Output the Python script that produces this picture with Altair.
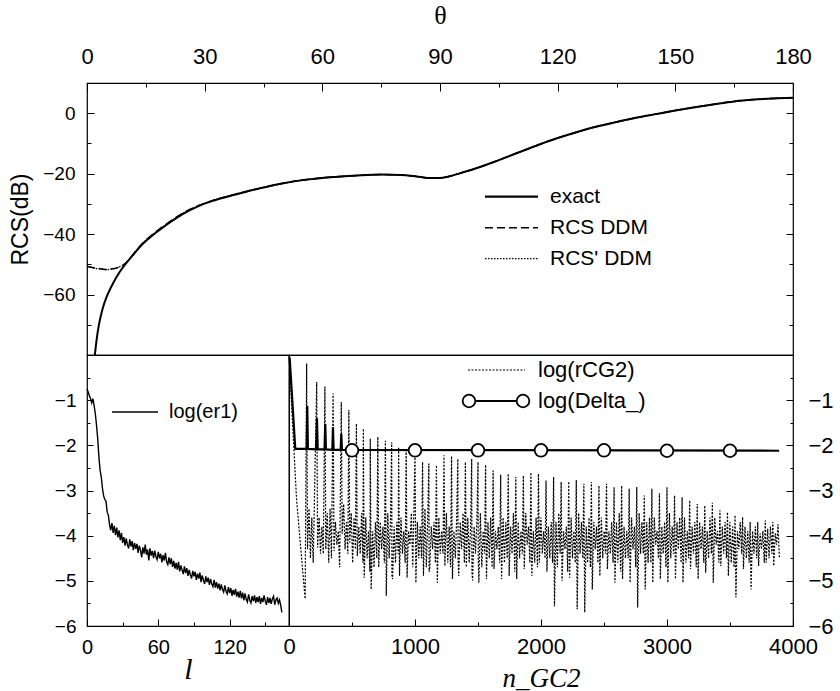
import altair as alt
import pandas as pd

# ---------------- top panel: RCS(dB) vs theta ----------------
theta_exact = [2.0, 2.5, 3.0, 3.5, 4.0, 5.0, 6.0, 7.0, 8.0, 9.0, 10.0, 11.0, 12.0, 13.5, 15.0,
               16.5, 18.5, 21.4, 24.5, 28.3, 32, 36.7, 41, 45.3, 50, 54, 60, 65, 70, 75, 80,
               84, 87, 90, 92, 95, 100, 105, 110, 115, 120, 125, 130, 135, 140, 145, 150, 155,
               160, 165, 170, 175, 180]
rcs_exact = [-80, -74.5, -70.3, -67.2, -64.6, -60.8, -57.9, -55.4, -53.2, -51.3, -49.6, -48.0,
             -46.5, -44.2, -42.3, -40.6, -38.6, -35.9, -33.3, -30.8, -29.0, -27.3, -25.8, -24.5,
             -23.2, -22.3, -21.4, -20.9, -20.5, -20.3, -20.4, -20.9, -21.4, -21.4, -21.0, -19.9,
             -17.9, -15.5, -13.0, -10.5, -8.2, -6.2, -4.4, -2.9, -1.5, -0.3, 0.9, 2.0, 3.0, 3.9,
             4.5, 4.9, 5.1]

theta_ddm = [0, 1, 2, 3, 4, 5, 6, 7, 8, 9, 10, 11, 12, 13.5, 15, 16.5, 18.5, 21.4, 24.5, 28.3,
             32, 36.7, 41, 45.3, 50, 54, 60, 65, 70, 75, 80, 84, 87, 90, 92, 95, 100, 105, 110,
             115, 120, 125, 130, 135, 140, 145, 150, 155, 160, 165, 170, 175, 180]
rcs_ddm = [-50.8, -51.0, -51.2, -51.4, -51.6, -51.7, -51.6, -51.4, -51.0, -50.4, -49.4, -47.9,
           -46.3, -44.0, -42.0, -40.3, -38.3, -35.6, -33.0, -30.6, -28.9, -27.2, -25.7, -24.5,
           -23.2, -22.3, -21.4, -20.9, -20.5, -20.3, -20.4, -20.9, -21.4, -21.4, -21.0, -19.9,
           -17.9, -15.5, -13.0, -10.5, -8.2, -6.2, -4.4, -2.9, -1.5, -0.3, 0.9, 2.0, 3.0, 3.9,
           4.5, 4.9, 5.1]
rcs_ddm2 = [-50.6, -50.9, -51.3, -51.5, -51.5, -51.8, -51.5, -51.4, -50.9, -50.5, -49.5, -48.0,
            -46.4, -44.1, -42.1, -40.4, -38.4, -35.7, -33.1, -30.7, -28.9, -27.2, -25.8, -24.5,
            -23.2, -22.3, -21.4, -20.9, -20.5, -20.3, -20.4, -20.9, -21.4, -21.4, -21.0, -19.9,
            -17.9, -15.5, -13.0, -10.5, -8.2, -6.2, -4.4, -2.9, -1.5, -0.3, 0.9, 2.0, 3.0, 3.9,
            4.5, 4.9, 5.1]

theta_major = [0, 30, 60, 90, 120, 150, 180]
theta_minor = [15, 45, 75, 105, 135, 165]
rcs_major = [-60, -40, -20, 0]
rcs_minor = [-70, -50, -30, -10]
top_legend = ["exact", "RCS DDM", "RCS' DDM"]

# ---------------- bottom left: log(er1) vs l ----------------
er1 = [
    -0.75, -0.82, -0.90, -0.96, -1.06, -0.97, -1.12, -1.30, -1.55, -1.85,
    -2.25, -2.55, -2.70, -2.95, -3.12, -3.20, -3.24, -3.48, -3.55, -3.76,
    -3.88, -3.72, -3.94, -3.78, -3.99, -3.82, -4.04, -3.88, -4.10, -3.94,
    -4.16, -4.03, -4.22, -4.06, -4.20, -4.28, -4.08, -4.24, -4.12, -4.32,
    -4.16, -4.29, -4.18, -4.38, -4.22, -4.32, -4.48, -4.26, -4.40, -4.20,
    -4.42, -4.31, -4.55, -4.28, -4.44, -4.34, -4.50, -4.33, -4.46, -4.53,
    -4.36, -4.50, -4.40, -4.59, -4.43, -4.55, -4.38, -4.58, -4.64, -4.48,
    -4.63, -4.50, -4.69, -4.56, -4.73, -4.60, -4.75, -4.58, -4.79, -4.66,
    -4.76, -4.85, -4.68, -4.83, -4.72, -4.89, -4.76, -4.87, -4.95, -4.78,
    -4.90, -4.80, -4.98, -4.84, -4.95, -4.82, -5.03, -4.88, -4.99, -5.07,
    -4.90, -5.03, -4.93, -5.09, -4.96, -5.07, -5.13, -4.98, -5.15, -5.03,
    -5.17, -5.06, -5.21, -5.08, -5.19, -5.25, -5.10, -5.23, -5.29, -5.14,
    -5.27, -5.16, -5.33, -5.20, -5.31, -5.18, -5.35, -5.24, -5.37, -5.22,
    -5.39, -5.26, -5.43, -5.28, -5.41, -5.47, -5.30, -5.43, -5.49, -5.34,
    -5.45, -5.32, -5.49, -5.36, -5.47, -5.34, -5.51, -5.38, -5.47, -5.32,
    -5.45, -5.53, -5.36, -5.49, -5.38, -5.51, -5.40, -5.34, -5.53, -5.42,
    -5.38, -5.50, -5.42, -5.54, -5.70]
l_values = list(range(len(er1)))
l_major = [0, 60, 120]
l_minor = [30, 90, 150]
log_major = [-6, -5, -4, -3, -2, -1]
log_minor = [-5.5, -4.5, -3.5, -2.5, -1.5, -0.5]

# ---------------- bottom right: log(rCG2), log(Delta_) vs n_GC2 ----------------
rcg_head_n = [0, 60, 128]
rcg_head_v = [0.0, -3.2, -5.4]
cycle_n = [140, 220, 285, 350, 415, 475, 535, 590, 645, 705,
           765, 815, 870, 930, 1000, 1060, 1110, 1170, 1230, 1290,
           1340, 1400, 1450, 1500, 1560, 1620, 1680, 1740, 1800, 1860,
           1920, 1980, 2040, 2100, 2160, 2220, 2280, 2340, 2400, 2460,
           2520, 2580, 2640, 2700, 2760, 2820, 2880, 2940, 3000, 3060,
           3120, 3180, 3240, 3300, 3360, 3420, 3480, 3540, 3600, 3660,
           3720, 3780, 3840]
rcg_peak = [-0.19, -0.60, -0.70, -0.85, -1.04, -1.22, -1.52, -1.63, -1.85, -1.81,
            -1.90, -1.93, -2.04, -2.07, -2.22, -2.37, -2.40, -2.44, -2.22, -2.24,
            -2.30, -2.37, -2.30, -2.37, -2.43, -2.56, -2.65, -2.63, -2.70, -2.67,
            -2.60, -2.63, -2.78, -2.70, -2.81, -2.80, -2.77, -2.85, -2.81, -2.89,
            -2.85, -2.93, -2.89, -2.96, -2.92, -3.11, -2.96, -3.06, -2.93, -3.11,
            -3.15, -3.22, -3.30, -3.33, -3.27, -3.44, -3.48, -3.55, -3.59, -3.70,
            -3.70, -3.66, -3.70]
rcg_trough = [-4.30, -4.26, -4.30, -4.34, -3.96, -4.15, -4.45, -4.93, -5.19, -4.70,
              -5.33, -4.96, -4.89, -4.93, -5.04, -4.89, -4.74, -5.04, -4.67, -4.96,
              -4.89, -4.70, -4.99, -5.04, -4.96, -4.74, -4.96, -4.89, -4.96, -4.74,
              -4.89, -4.60, -4.80, -5.56, -5.00, -4.93, -5.63, -5.70, -5.19, -4.89,
              -4.74, -5.04, -4.96, -5.04, -5.59, -5.19, -5.04, -4.96, -5.04, -4.96,
              -5.04, -4.74, -4.96, -4.82, -5.04, -4.67, -4.89, -5.37, -4.74, -5.19,
              -4.67, -4.60, -4.67]
rcg_mid = [-3.4, -3.6, -3.5, -3.7, -3.3, -3.5, -3.8, -3.6, -3.9, -3.7,
           -3.5, -3.8, -3.6, -3.9, -3.7, -3.4, -3.8, -3.6, -3.5, -3.9,
           -3.7, -3.6, -3.8, -3.5, -3.7, -3.9, -3.6, -3.8, -3.7, -3.5,
           -3.9, -3.6, -3.8, -3.7, -3.9, -3.6, -3.5, -3.8, -3.7, -3.6,
           -3.9, -3.7, -3.8, -3.6, -3.5, -3.7, -3.6, -3.8, -3.5, -3.7,
           -3.6, -3.8, -3.7, -3.9, -3.6, -3.8, -3.7, -3.9, -3.8, -3.9,
           -3.95, -3.85, -3.95]
rcg_trough2 = [-4.5, -4.4, -4.6, -4.2, -4.3, -4.6, -4.4, -4.5, -4.7, -4.3,
               -4.5, -4.6, -4.4, -4.2, -4.5, -4.7, -4.3, -4.4, -4.6, -4.5,
               -4.3, -4.6, -4.4, -4.7, -4.5, -4.3, -4.6, -4.4, -4.5, -4.2,
               -4.6, -4.4, -4.5, -4.7, -4.3, -4.5, -4.4, -4.6, -4.3, -4.5,
               -4.4, -4.6, -4.5, -4.3, -4.4, -4.6, -4.2, -4.4, -4.5, -4.3,
               -4.6, -4.4, -4.3, -4.5, -4.2, -4.4, -4.6, -4.3, -4.5, -4.4,
               -4.3, -4.5, -4.2]
rcg_mid2 = [-3.6, -3.8, -3.4, -3.9, -3.7, -3.6, -3.5, -3.9, -3.7, -3.8,
            -3.6, -3.7, -3.9, -3.5, -3.8, -3.6, -3.7, -3.9, -3.8, -3.6,
            -3.5, -3.8, -3.7, -3.9, -3.6, -3.8, -3.7, -3.5, -3.9, -3.8,
            -3.6, -3.9, -3.7, -3.5, -3.8, -3.9, -3.7, -3.6, -3.8, -3.9,
            -3.7, -3.5, -3.9, -3.8, -3.7, -3.6, -3.9, -3.7, -3.8, -3.6,
            -3.9, -3.7, -3.8, -3.6, -3.9, -3.7, -3.8, -3.7, -3.9, -3.8,
            -3.9, -3.8, -3.75]
rcg_trough3 = [-4.6, -4.4, -4.5, -4.7, -4.4, -4.3, -4.6, -4.8, -4.5, -4.6,
               -4.9, -4.4, -4.6, -4.7, -4.5, -4.8, -4.6, -4.4, -4.7, -4.5,
               -4.6, -4.8, -4.5, -4.4, -4.7, -4.6, -4.5, -4.8, -4.4, -4.6,
               -4.7, -4.5, -4.6, -4.4, -4.8, -4.6, -4.5, -4.7, -4.6, -4.4,
               -4.6, -4.8, -4.5, -4.7, -4.4, -4.6, -4.5, -4.7, -4.4, -4.6,
               -4.5, -4.7, -4.6, -4.4, -4.6, -4.5, -4.7, -4.4, -4.6, -4.5,
               -4.6, -4.4, -4.5]

delta_n = [5, 50, 140, 145, 150, 215, 222, 228, 283, 288, 293, 344, 349, 354, 410, 415, 420, 3890]
delta_v = [-0.05, -2.08, -2.08, -1.13, -2.08, -2.09, -1.40, -2.09, -2.09, -1.53, -2.09,
           -2.10, -1.60, -2.10, -2.10, -1.75, -2.10, -2.12]
circle_n = [500, 1000, 1500, 2000, 2500, 3000, 3500]
circle_v = [-2.11, -2.11, -2.11, -2.11, -2.11, -2.12, -2.12]

n_major = [0, 1000, 2000, 3000, 4000]
n_minor = [500, 1500, 2500, 3500]
br_legend = ["log(rCG2)", "log(Delta_)"]

# ---------------- build tables ----------------
df_exact = pd.DataFrame({"theta": theta_exact, "rcs": rcs_exact})
df_ddm = pd.DataFrame({"theta": theta_ddm, "rcs": rcs_ddm})
df_ddm2 = pd.DataFrame({"theta": theta_ddm, "rcs": rcs_ddm2})
df_er1 = pd.DataFrame({"l": l_values, "v": er1})

rows = [(n, v) for n, v in zip(rcg_head_n, rcg_head_v)]
for n0, p, t, m, t2, m2, t3 in zip(cycle_n, rcg_peak, rcg_trough, rcg_mid, rcg_trough2,
                                  rcg_mid2, rcg_trough3):
    rows += [(n0, p), (n0 + 7, t), (n0 + 19, m), (n0 + 30, t2), (n0 + 41, m2), (n0 + 52, t3)]
df_rcg = pd.DataFrame(rows, columns=["n", "v"])
df_delta = pd.DataFrame({"n": delta_n, "v": delta_v})
df_circ = pd.DataFrame({"n": circle_n, "v": circle_v})

SANS = "Liberation Sans"
SERIF = "Liberation Serif"


def ax(orient, values, size, labels=True, title=None, **kw):
    return alt.Axis(orient=orient, values=values, tickSize=size, offset=-size,
                    labels=labels, title=title, domain=False, grid=False,
                    labelFlush=False, labelOverlap=False, tickColor="black",
                    tickWidth=1, labelColor="black", titleColor="black",
                    labelFont=SANS, titleFontWeight="normal", **kw)


# ---------------- top panel ----------------
TW, TH = 706, 272
th_scale = alt.Scale(domain=[0, 180], nice=False, zero=False)
rcs_scale = alt.Scale(domain=[-80, 10], nice=False, zero=False)

t1 = alt.Chart(df_exact).mark_line(color="black", strokeWidth=2, interpolate="monotone").encode(
    x=alt.X("theta:Q", scale=th_scale,
            axis=ax("top", theta_major, 8, title="θ", labelFontSize=22, labelPadding=15,
                    titleFont=SERIF, titleFontSize=26, titlePadding=17)),
    y=alt.Y("rcs:Q", scale=rcs_scale,
            axis=ax("left", rcs_major, 7, title="RCS(dB)", labelFontSize=19, labelPadding=12,
                    titleFont=SANS, titleFontSize=23, titlePadding=10)),
)
t2 = alt.Chart(df_ddm).mark_line(color="black", strokeWidth=1.5, strokeDash=[8, 4],
                                 interpolate="monotone").encode(
    x=alt.X("theta:Q", scale=th_scale, axis=ax("top", theta_minor, 4, labels=False)),
    y=alt.Y("rcs:Q", scale=rcs_scale, axis=ax("left", rcs_minor, 4, labels=False)),
)
t3 = alt.Chart(df_ddm2).mark_line(color="black", strokeWidth=1.3, strokeDash=[1.5, 1.5],
                                  interpolate="monotone").encode(
    x=alt.X("theta:Q", scale=th_scale, axis=None),
    y=alt.Y("rcs:Q", scale=rcs_scale, axis=ax("right", rcs_major, 7, labels=False)),
)
t4 = alt.Chart(df_exact).mark_line(opacity=0).encode(
    x=alt.X("theta:Q", scale=th_scale, axis=None),
    y=alt.Y("rcs:Q", scale=rcs_scale, axis=ax("right", rcs_minor, 4, labels=False)),
)

leg_top = pd.DataFrame({"label": top_legend})
lt_y = [113.7, 144.7, 175.7]
lt_dash = [[1, 0], [8, 4], [1.5, 1.5]]
lt_w = [2.2, 1.5, 1.3]
top_leg_layers = []
for i, lab in enumerate(top_legend):
    d = leg_top.iloc[[i]]
    top_leg_layers.append(alt.Chart(d).mark_rule(color="black", strokeWidth=lt_w[i], strokeDash=lt_dash[i]).encode(
        x=alt.value(398), x2=alt.value(451), y=alt.value(lt_y[i])))
    top_leg_layers.append(alt.Chart(d).mark_text(align="left", baseline="middle", font=SANS, fontSize=21, color="black").encode(
        x=alt.value(463), y=alt.value(lt_y[i]), text="label:N"))

top = alt.layer(t1, t2, t3, t4, *top_leg_layers).resolve_axis(
    x="independent", y="independent").properties(width=TW, height=TH)

# ---------------- bottom left ----------------
BLW, BH = 202, 271
l_scale = alt.Scale(domain=[0, 170], nice=False, zero=False)
log_scale = alt.Scale(domain=[-6, 0], nice=False, zero=False)

b1 = alt.Chart(df_er1).mark_line(color="black", strokeWidth=1.4).encode(
    x=alt.X("l:Q", scale=l_scale,
            axis=ax("bottom", l_major, 7, title="l", labelFontSize=20, labelPadding=11,
                    titleFont=SERIF, titleFontStyle="italic", titleFontSize=30, titlePadding=-3)),
    y=alt.Y("v:Q", scale=log_scale,
            axis=ax("left", log_major, 6, labelFontSize=19, labelPadding=11)),
)
b2 = alt.Chart(df_er1).mark_line(opacity=0).encode(
    x=alt.X("l:Q", scale=l_scale, axis=ax("bottom", l_minor, 4, labels=False)),
    y=alt.Y("v:Q", scale=log_scale, axis=ax("left", log_minor, 3, labels=False)),
)
leg_bl = pd.DataFrame({"label": ["log(er1)"]})
b3 = alt.Chart(leg_bl).mark_rule(color="black", strokeWidth=1.4).encode(
    x=alt.value(25), x2=alt.value(71), y=alt.value(57))
b4 = alt.Chart(leg_bl).mark_text(align="left", baseline="middle", font=SANS, fontSize=20, color="black").encode(
    x=alt.value(82), y=alt.value(57), text="label:N")
bl = alt.layer(b1, b2, b3, b4).resolve_axis(x="independent", y="independent").properties(width=BLW, height=BH)

# ---------------- bottom right ----------------
BRW = 504
n_scale = alt.Scale(domain=[0, 4000], nice=False, zero=False)

r1 = alt.Chart(df_rcg).mark_line(color="black", strokeWidth=1.2, strokeDash=[2, 1.5]).encode(
    x=alt.X("n:Q", scale=n_scale,
            axis=ax("bottom", n_major, 7, title="n_GC2", labelFontSize=22, labelPadding=10,
                    format="d", titleFont=SERIF, titleFontStyle="italic", titleFontSize=27,
                    titlePadding=8)),
    y=alt.Y("v:Q", scale=log_scale,
            axis=ax("right", log_major, 7, labelFontSize=22, labelPadding=15)),
)
r2 = alt.Chart(df_delta).mark_line(color="black", strokeWidth=2.2).encode(
    x=alt.X("n:Q", scale=n_scale, axis=ax("bottom", n_minor, 4, labels=False)),
    y=alt.Y("v:Q", scale=log_scale, axis=ax("right", log_minor, 3, labels=False)),
)
r3 = alt.Chart(df_circ).mark_point(shape="circle", size=160, color="black", fill="white",
                                   filled=False, strokeWidth=1.8, opacity=1).encode(
    x=alt.X("n:Q", scale=n_scale, axis=None),
    y=alt.Y("v:Q", scale=log_scale, axis=None),
)
leg_br = pd.DataFrame({"label": br_legend})
r4 = alt.Chart(leg_br.iloc[[0]]).mark_rule(color="black", strokeWidth=1.2, strokeDash=[2, 1.5]).encode(
    x=alt.value(179), x2=alt.value(236), y=alt.value(15))
r5 = alt.Chart(leg_br.iloc[[1]]).mark_rule(color="black", strokeWidth=2.2).encode(
    x=alt.value(180), x2=alt.value(234), y=alt.value(46))
r6 = alt.Chart(leg_br.iloc[[1]]).mark_point(
    shape="circle", size=160, color="black", fill="white", filled=False, strokeWidth=1.8,
    opacity=1).encode(x=alt.value(180), y=alt.value(46))
r6b = alt.Chart(leg_br.iloc[[1]]).mark_point(
    shape="circle", size=160, color="black", fill="white", filled=False, strokeWidth=1.8,
    opacity=1).encode(x=alt.value(234), y=alt.value(46))
r7 = alt.Chart(leg_br.iloc[[0]]).mark_text(align="left", baseline="middle", font=SANS, fontSize=22, color="black").encode(
    x=alt.value(249), y=alt.value(15), text="label:N")
r8 = alt.Chart(leg_br.iloc[[1]]).mark_text(align="left", baseline="middle", font=SANS, fontSize=22, color="black").encode(
    x=alt.value(249), y=alt.value(46), text="label:N")
br = alt.layer(r1, r2, r3, r4, r5, r6, r6b, r7, r8).resolve_axis(
    x="independent", y="independent").properties(width=BRW, height=BH)

bottom = alt.hconcat(bl, br, spacing=0, bounds="flush")
chart = alt.vconcat(top, bottom, spacing=0, bounds="flush").properties(
    padding={"left": 9, "top": 1, "right": 0, "bottom": 0}
).configure_view(stroke="black", strokeWidth=1.2)

chart.save("out.html", embed_options={"renderer": "svg", "actions": False})
